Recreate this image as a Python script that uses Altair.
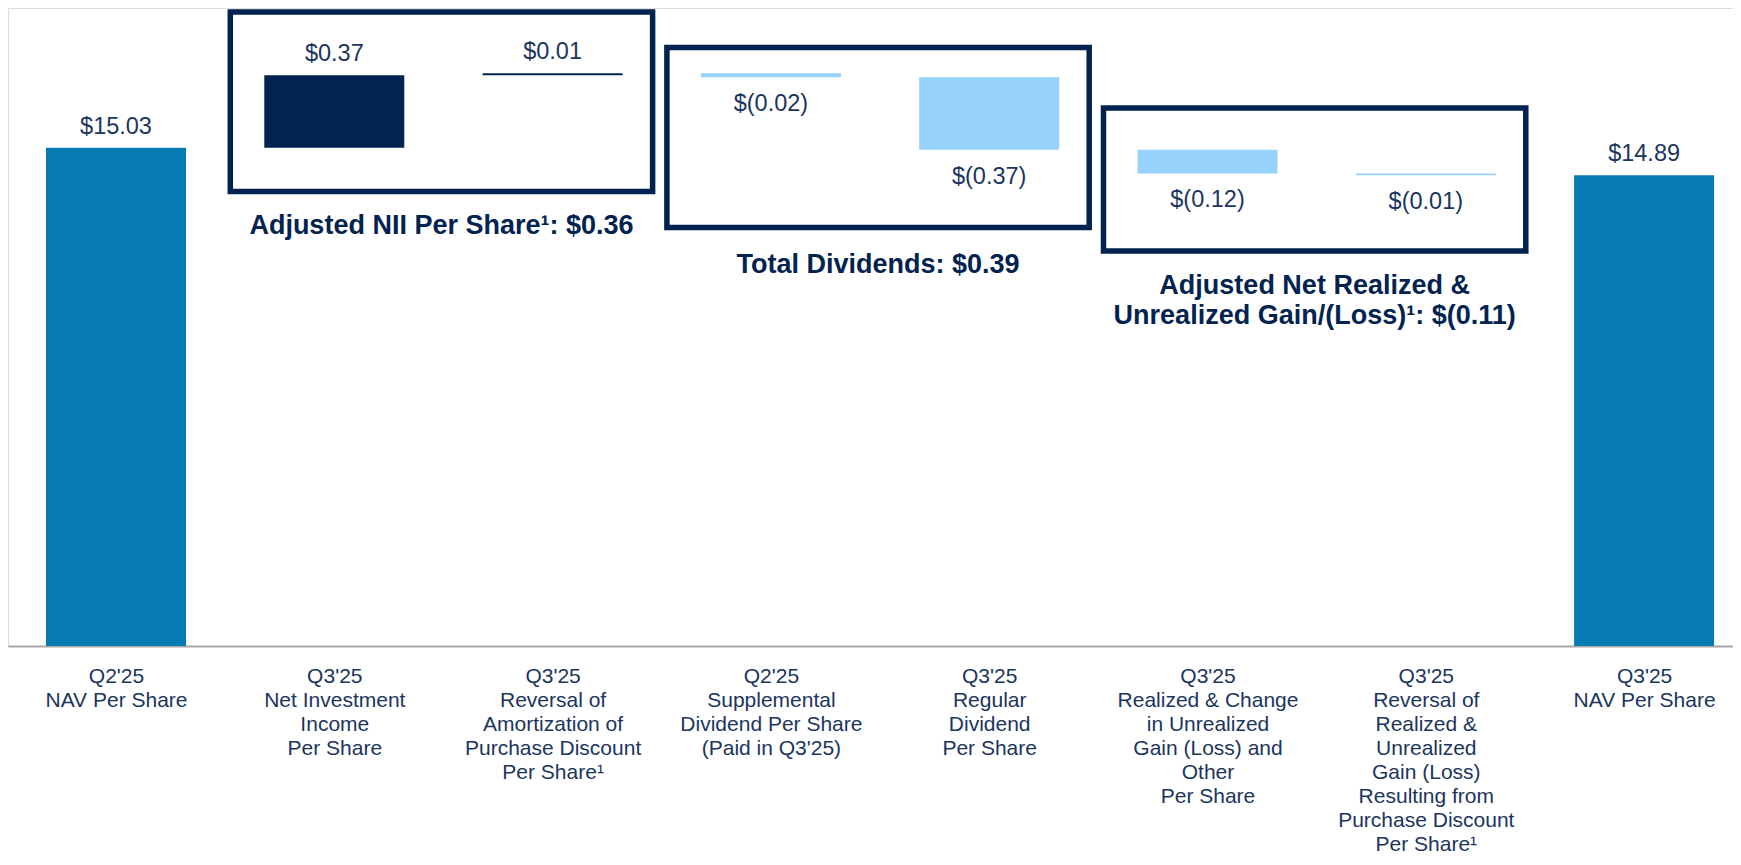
import json
import altair as alt
import pandas as pd

# ---------------- data ----------------
CATEGORIES = [
    ["Q2'25", "NAV Per Share"],
    ["Q3'25", "Net Investment", "Income", "Per Share"],
    ["Q3'25", "Reversal of", "Amortization of", "Purchase Discount", "Per Share\u00b9"],
    ["Q2'25", "Supplemental", "Dividend Per Share", "(Paid in Q3'25)"],
    ["Q3'25", "Regular", "Dividend", "Per Share"],
    ["Q3'25", "Realized & Change", "in Unrealized", "Gain (Loss) and", "Other", "Per Share"],
    ["Q3'25", "Reversal of", "Realized &", "Unrealized", "Gain (Loss)", "Resulting from",
     "Purchase Discount", "Per Share\u00b9"],
    ["Q3'25", "NAV Per Share"],
]
NAV_START = 15.03
CHANGES = [0.37, 0.01, -0.02, -0.37, -0.12, -0.01]
NAV_END = 14.89

GROUP_TITLES = [
    "Adjusted NII Per Share\u00b9: $0.36",
    "Total Dividends: $0.39",
    "Adjusted Net Realized &\nUnrealized Gain/(Loss)\u00b9: $(0.11)",
]
GROUP_FIRST = [1, 3, 5]
GROUP_LAST = [2, 4, 6]

# ---------------- layout / style ----------------
W, H = 1725, 638
Y_MIN, Y_MAX = 12.494, 15.742
X_MIN = -0.49473
X_MAX = X_MIN + W / 218.3
BOX_TOP_PX = [4, 39.5, 100]
BOX_BOTTOM_PX = [183.5, 219.5, 243]
TITLE_TOP_PX = [204.5, 243.8, 265]

FONT = "Liberation Sans"
NAVY = "#022350"
TEXT = "#1B3560"
COLORS = {"nav": "#057BB2", "inc": "#022350", "dec": "#96D2FC"}


def fmt(v):
    return f"${v:.2f}" if v >= 0 else f"$({abs(v):.2f})"


rows = [dict(idx=0, lo=Y_MIN, hi=NAV_START, kind="nav", label=fmt(NAV_START), side="up")]
level = NAV_START
for i, c in enumerate(CHANGES, start=1):
    new = round(level + c, 2)
    rows.append(dict(idx=i, lo=min(level, new), hi=max(level, new),
                     kind="inc" if c > 0 else "dec", label=fmt(c),
                     side="up" if c > 0 else "down"))
    level = new
rows.append(dict(idx=len(CHANGES) + 1, lo=Y_MIN, hi=NAV_END, kind="nav", label=fmt(NAV_END), side="up"))
df = pd.DataFrame(rows)

label_expr = json.dumps(CATEGORIES, ensure_ascii=False) + "[datum.value]"

xscale = alt.Scale(domain=[X_MIN, X_MAX], nice=False, zero=False, padding=0)
yscale = alt.Scale(domain=[Y_MIN, Y_MAX], nice=False, zero=False)

X = alt.X("idx:Q", scale=xscale, axis=alt.Axis(
    values=list(range(len(CATEGORIES))), labelExpr=label_expr, title=None,
    labelFont=FONT, labelFontSize=21, labelLineHeight=24, labelColor=TEXT,
    labelPadding=19, labelBaseline="top", labelAlign="center", labelLimit=400,
    labelOverlap=False, labelFlush=False, labelBound=False,
    ticks=False, tickSize=0, grid=False,
    domainColor="#A6A6A6", domainWidth=2))
Xp = alt.X("idx:Q", scale=xscale)
Ylo = alt.Y("lo:Q", scale=yscale, axis=None)
Yhi = alt.Y("hi:Q", scale=yscale, axis=None)

bars = alt.Chart(df).mark_bar(width=140).encode(
    x=X, y=Ylo, y2="hi:Q",
    color=alt.Color("kind:N", scale=alt.Scale(domain=list(COLORS), range=list(COLORS.values())), legend=None),
)
labels_up = alt.Chart(df).transform_filter("datum.side == 'up'").mark_text(
    dy=-14, fontSize=23.5, font=FONT, color=TEXT, baseline="alphabetic", align="center"
).encode(x=Xp, y=Yhi, text="label:N")
labels_down = alt.Chart(df).transform_filter("datum.side == 'down'").mark_text(
    dy=34, fontSize=23.5, font=FONT, color=TEXT, baseline="alphabetic", align="center"
).encode(x=Xp, y=Ylo, text="label:N")

layers = [bars, labels_up, labels_down]
for g, title in enumerate(GROUP_TITLES):
    gdf = pd.DataFrame([dict(a=GROUP_FIRST[g], b=GROUP_LAST[g],
                             mid=(GROUP_FIRST[g] + GROUP_LAST[g]) / 2, title=title)])
    box = alt.Chart(gdf).mark_rect(
        filled=False, stroke=NAVY, strokeWidth=5.5, xOffset=-104, x2Offset=100
    ).encode(x=alt.X("a:Q", scale=xscale), x2="b:Q",
             y=alt.value(BOX_TOP_PX[g]), y2=alt.value(BOX_BOTTOM_PX[g]))
    ttl = alt.Chart(gdf).mark_text(
        lineBreak="\n", lineHeight=29.5, fontSize=27, fontWeight="bold", font=FONT,
        color=NAVY, baseline="top", align="center", dx=-2
    ).encode(x=alt.X("mid:Q", scale=xscale), y=alt.value(TITLE_TOP_PX[g]), text="title:N")
    layers += [box, ttl]

chart = alt.layer(*layers).properties(
    width=W, height=H,
    padding={"left": 0, "top": 0, "right": 0, "bottom": 211},
    autosize=alt.AutoSizeParams(type="none"),
).configure_view(strokeWidth=0).configure(background="white")

chart.save("out.html", embed_options={"renderer": "svg", "actions": False})
